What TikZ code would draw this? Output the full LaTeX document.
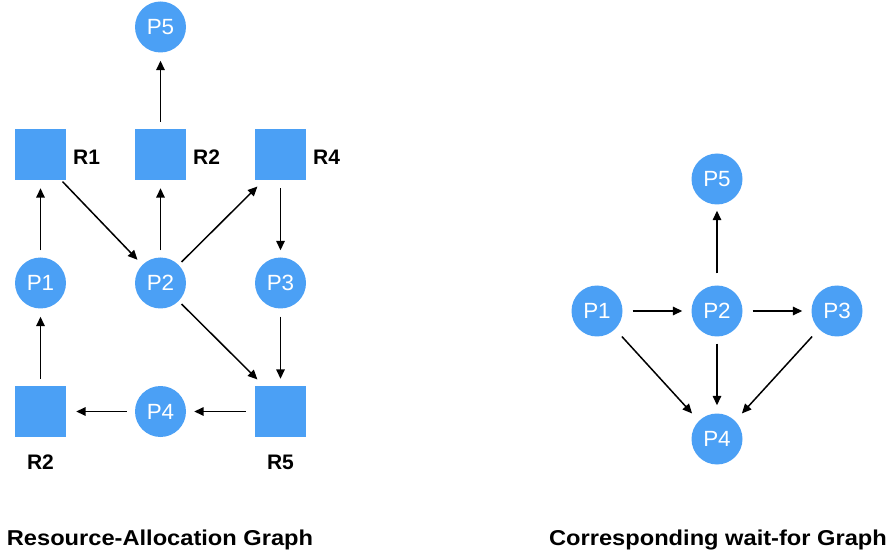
\documentclass[tikz,border=0pt]{standalone}
\usepackage{fontspec}
\setmainfont{Liberation Sans}
\newfontfamily\lblfont{Liberation Sans}[FakeStretch=1.02]
\newfontfamily\ttlfont{Liberation Sans}[FakeStretch=1.1]
\usetikzlibrary{arrows.meta}
\definecolor{nodeblue}{HTML}{4BA0F5}
\begin{document}
\begin{tikzpicture}[x=1pt,y=-1pt,
  proc/.style={circle,fill=nodeblue,minimum size=51pt,inner sep=0pt,text=white,font=\lblfont\fontsize{22}{24}\selectfont},
  res/.style={rectangle,fill=nodeblue,minimum size=51pt,inner sep=0pt},
  rlabel/.style={font=\fontsize{21}{23}\selectfont\bfseries,inner sep=0pt},
  gtitle/.style={font=\ttlfont\fontsize{21.5}{24}\selectfont\bfseries,inner sep=0pt},
  arr/.style={-{Triangle[length=9.5pt,width=8.5pt]},line width=1.5pt}]
\useasboundingbox (0,0) rectangle (895,556);
% ---- Resource-Allocation Graph ----
\node[proc] (P5) at (160.5,27) {P5};
\node[res] (R1) at (40.5,154.5) {};
\node[res] (R2a) at (160.5,154.5) {};
\node[res] (R4) at (280.5,154.5) {};
\node[proc] (P1) at (40.5,283) {P1};
\node[proc] (P2) at (160.5,283) {P2};
\node[proc] (P3) at (280.5,283) {P3};
\node[res] (R2b) at (40.5,411.5) {};
\node[proc] (P4) at (160.5,411.5) {P4};
\node[res] (R5) at (280.5,411.5) {};
\node[rlabel,anchor=base west] (lR1) at (73,164.5) {R1};
\node[rlabel,anchor=base west] (lR2a) at (193,164.5) {R2};
\node[rlabel,anchor=base west] (lR4) at (313,164.5) {R4};
\node[rlabel,anchor=base] (lR2b) at (40.5,469.5) {R2};
\node[rlabel,anchor=base] (lR5) at (280.5,469.5) {R5};
\draw[arr,shorten <=7pt,shorten >=8pt] (P1) -- (R1);
\draw[arr,shorten <=7pt,shorten >=8pt] (P2) -- (R2a);
\draw[arr,shorten <=7pt,shorten >=8pt] (R2a) -- (P5);
\draw[arr,shorten <=8pt,shorten >=7pt] (R4) -- (P3);
\draw[arr,shorten <=8pt,shorten >=7pt] (P3) -- (R5);
\draw[arr,shorten <=2pt,shorten >=7pt] ([xshift=-5pt]R1.south east) -- (P2.135);
\draw[arr,shorten <=4pt,shorten >=9pt] (P2.45) -- ([xshift=9pt]R4.south west);
\draw[arr,shorten <=4pt,shorten >=9pt] (P2.-45) -- ([xshift=9pt]R5.north west);
\draw[arr,shorten <=9pt,shorten >=8pt] (R5) -- (P4);
\draw[arr,shorten <=8pt,shorten >=10pt] (P4) -- (R2b);
\draw[arr,shorten <=7pt,shorten >=8pt] (R2b) -- (P1);
\node[gtitle,anchor=base] (t1) at (160,545.5) {Resource-Allocation Graph};
% ---- Corresponding wait-for Graph ----
\node[proc] (Q5) at (717,179) {P5};
\node[proc] (Q1) at (597,311) {P1};
\node[proc] (Q2) at (717,311) {P2};
\node[proc] (Q3) at (837,311) {P3};
\node[proc] (Q4) at (717,439) {P4};
\draw[arr,shorten <=10pt,shorten >=9pt] (Q1) -- (Q2);
\draw[arr,shorten <=10pt,shorten >=9pt] (Q2) -- (Q3);
\draw[arr,shorten <=12pt,shorten >=6pt] (Q2) -- (Q5);
\draw[arr,shorten <=7pt,shorten >=8pt] (Q2) -- (Q4);
\draw[arr,shorten <=10pt,shorten >=10pt] (Q1.-45) -- (Q4.135);
\draw[arr,shorten <=10pt,shorten >=10pt] (Q3.-135) -- (Q4.45);
\node[gtitle,anchor=base] (t2) at (718,545.5) {Corresponding wait-for Graph};
\end{tikzpicture}
\end{document}
